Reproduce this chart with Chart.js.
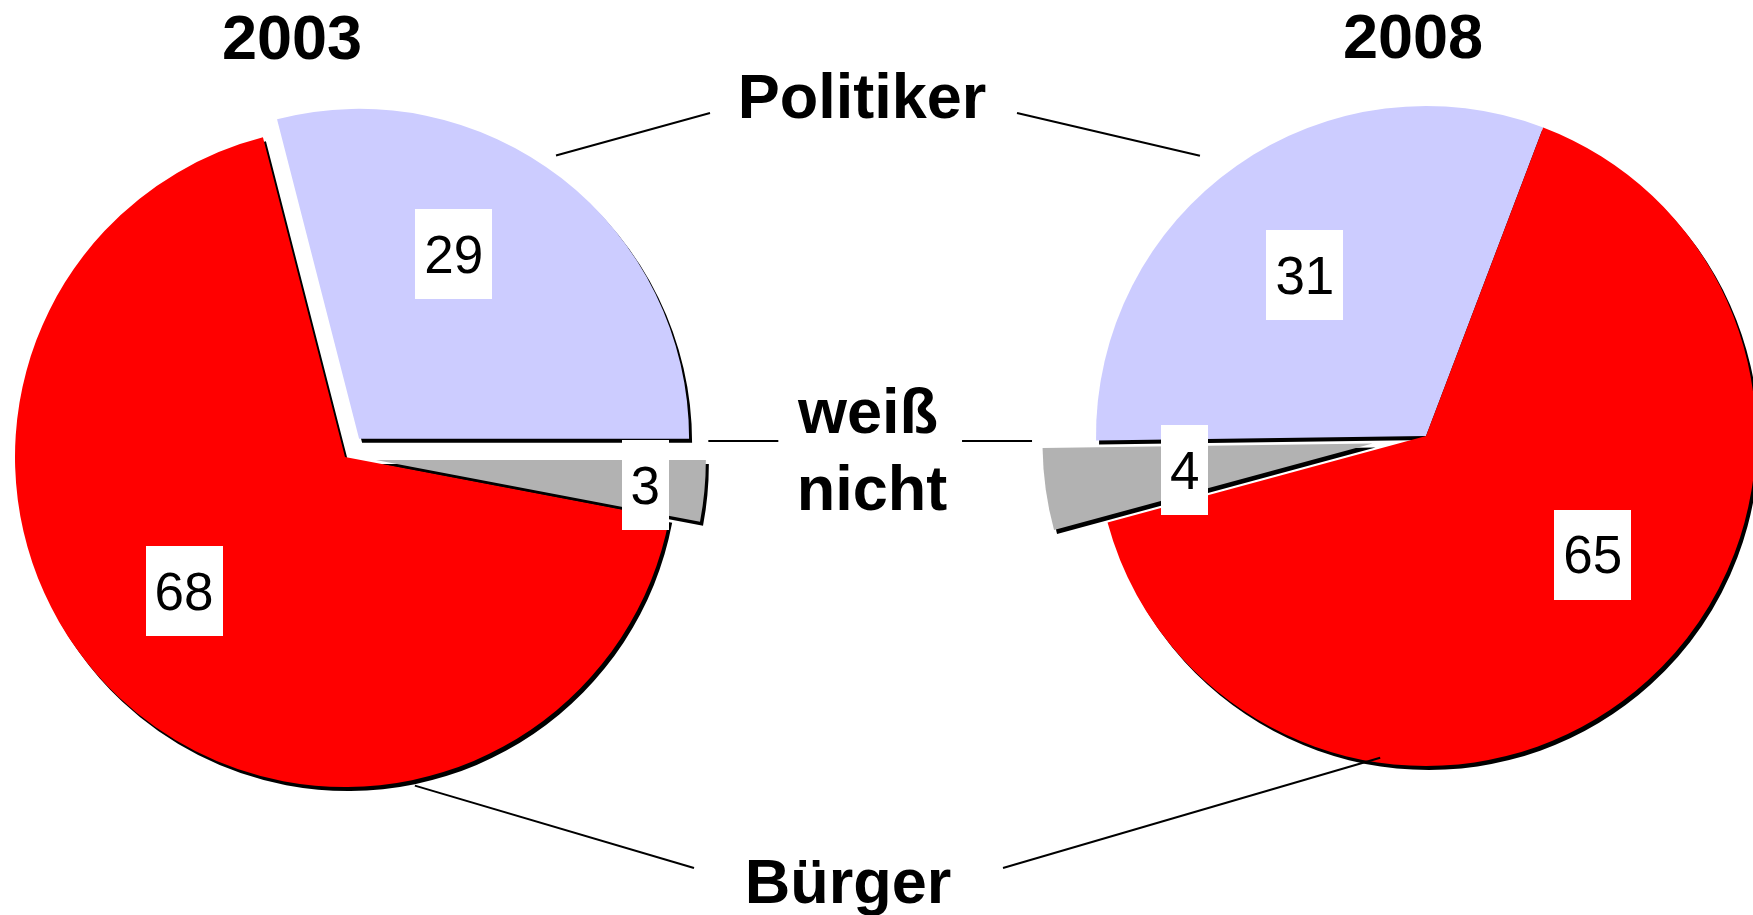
<!DOCTYPE html>
<html>
<head>
<meta charset="utf-8">
<title>Politiker / Bürger 2003 - 2008</title>
<script src="https://cdn.jsdelivr.net/npm/chart.js@4.4.1/dist/chart.umd.min.js"></script>
<style>
  html, body { margin: 0; padding: 0; background: #fff; }
  #wrap { position: relative; width: 1753px; height: 915px; overflow: hidden; }
  #wrap canvas { position: absolute; left: 0; top: 0; }
</style>
</head>
<body>
<div id="wrap">
  <canvas id="pie2003" width="1753" height="915"></canvas>
  <canvas id="pie2008" width="1753" height="915"></canvas>
</div>
<script>
// data
const years = ['2003', '2008'];
const categories = ['Politiker', 'weiß nicht', 'Bürger'];
const values2003 = [29, 3, 68];
const values2008 = [31, 4, 65];

const sliceColors = ['#CCCCFF', '#B2B2B2', '#FF0000'];
const FONT = '"Liberation Sans", Arial, Helvetica, sans-serif';
const RADIUS = 330;

const toRad = d => d * Math.PI / 180;

// draws the slices itself so that they can be pulled out and get a hard shadow
const explodedPie = {
    id: 'explodedPie',
    beforeDatasetDraw(chart, args, opts) {
        const ctx = chart.ctx;
        const meta = chart.getDatasetMeta(args.index);
        meta.data.forEach((arc, i) => {
            const d = opts.explode[i] || 0;
            const mid = (arc.startAngle + arc.endAngle) / 2;
            ctx.save();
            ctx.translate(Math.cos(mid) * d, Math.sin(mid) * d);
            ctx.shadowColor = '#000';
            ctx.shadowOffsetX = 3;
            ctx.shadowOffsetY = 4;
            ctx.shadowBlur = 0;
            arc.draw(ctx);
            ctx.restore();
        });
        return false;
    },
    afterDatasetsDraw(chart, args, opts) {
        const ctx = chart.ctx;
        const meta = chart.getDatasetMeta(0);
        const values = chart.data.datasets[0].data;

        // the apex of a slice after it has been pulled out
        const apex = (arc, i) => {
            const d = opts.explode[i] || 0;
            const mid = (arc.startAngle + arc.endAngle) / 2;
            return { x: arc.x + Math.cos(mid) * d, y: arc.y + Math.sin(mid) * d };
        };

        // leader lines, starting next to a slice
        ctx.save();
        ctx.strokeStyle = '#000';
        ctx.lineWidth = 2;
        opts.leaders.forEach(l => {
            const arc = meta.data[l.slice];
            const p = apex(arc, l.slice);
            const a = -toRad(l.angle);
            const r = arc.outerRadius + l.dr;
            const x0 = p.x + Math.cos(a) * r;
            const y0 = p.y + Math.sin(a) * r;
            const end = l.to ? l.to : [x0 + l.dx, y0];
            ctx.beginPath();
            ctx.moveTo(x0, y0);
            ctx.lineTo(end[0], end[1]);
            ctx.stroke();
        });
        ctx.restore();

        // value labels in white boxes
        ctx.save();
        const size = 53;
        ctx.font = size + 'px ' + FONT;
        ctx.textAlign = 'center';
        ctx.textBaseline = 'alphabetic';
        meta.data.forEach((arc, i) => {
            const p = apex(arc, i);
            const place = opts.labels[i];
            const a = (arc.startAngle + arc.endAngle) / 2 - toRad(place.nudge);
            const cx = p.x + Math.cos(a) * arc.outerRadius * place.f;
            const cy = p.y + Math.sin(a) * arc.outerRadius * place.f;
            const txt = String(values[i]);
            const w = ctx.measureText(txt).width + 18;
            const h = 90;
            ctx.fillStyle = '#fff';
            ctx.fillRect(Math.round(cx - w / 2), Math.round(cy - h / 2), Math.round(w), h);
            ctx.fillStyle = '#000';
            ctx.fillText(txt, cx, cy + size * 0.358);
        });
        ctx.restore();

        // titles and category captions
        ctx.save();
        ctx.fillStyle = '#000';
        ctx.font = 'bold 63px ' + FONT;
        ctx.textAlign = 'center';
        ctx.textBaseline = 'alphabetic';
        opts.texts.forEach(t => ctx.fillText(t.text, t.x, t.y));
        ctx.restore();
    }
};

function makePie(canvasId, values, setup) {
    const order = setup.order;
    return new Chart(document.getElementById(canvasId), {
        type: 'pie',
        data: {
            labels: order.map(i => categories[i]),
            datasets: [{
                data: order.map(i => values[i]),
                backgroundColor: order.map(i => sliceColors[i]),
                borderWidth: 0,
                hoverOffset: 0
            }]
        },
        options: {
            responsive: false,
            animation: false,
            events: [],
            rotation: setup.rotation,
            radius: RADIUS,
            layout: { padding: setup.padding },
            plugins: {
                legend: { display: false },
                tooltip: { enabled: false },
                explodedPie: {
                    explode: order.map(i => setup.explode[i]),
                    labels: order.map(i => setup.labels[i]),
                    leaders: setup.leaders.map(l => Object.assign({}, l, { slice: order.indexOf(l.cat) })),
                    texts: setup.texts
                }
            }
        },
        plugins: [explodedPie]
    });
}

makePie('pie2003', values2003, {
    order: [0, 1, 2],
    rotation: -14.4,
    padding: { left: 0, right: 1063, top: 0, bottom: 1 },
    explode: [23, 31, 0],
    labels: [{ f: 0.63, nudge: 10.7 }, { f: 0.82, nudge: 0 }, { f: 0.635, nudge: -7 }],
    leaders: [
        { cat: 0, angle: 55.2, dr: 15, to: [710, 113] },
        { cat: 1, angle: 3.25, dr: 3, dx: 70 },
        { cat: 2, angle: -78, dr: 6, to: [694, 868] }
    ],
    texts: [{ text: years[0], x: 292, y: 59 }]
});

makePie('pie2008', values2008, {
    order: [0, 2, 1],
    rotation: -90.8,
    padding: { left: 1099, right: 0, top: 0, bottom: 43 },
    explode: [0, 54, 0],
    labels: [{ f: 0.61, nudge: 2 }, { f: 0.575, nudge: 0 }, { f: 0.62, nudge: 12.4 }],
    leaders: [
        { cat: 0, angle: 128.9, dr: 30, to: [1017, 113] },
        { cat: 1, angle: 179.58, dr: 10.5, dx: -70 },
        { cat: 2, angle: 261.9, dr: -5, to: [1003, 868] }
    ],
    texts: [
        { text: years[1], x: 1413, y: 58 },
        { text: categories[0], x: 862, y: 118 },
        { text: 'weiß', x: 868, y: 433 },
        { text: 'nicht', x: 872, y: 510 },
        { text: categories[2], x: 848, y: 903 }
    ]
});
</script>
</body>
</html>
